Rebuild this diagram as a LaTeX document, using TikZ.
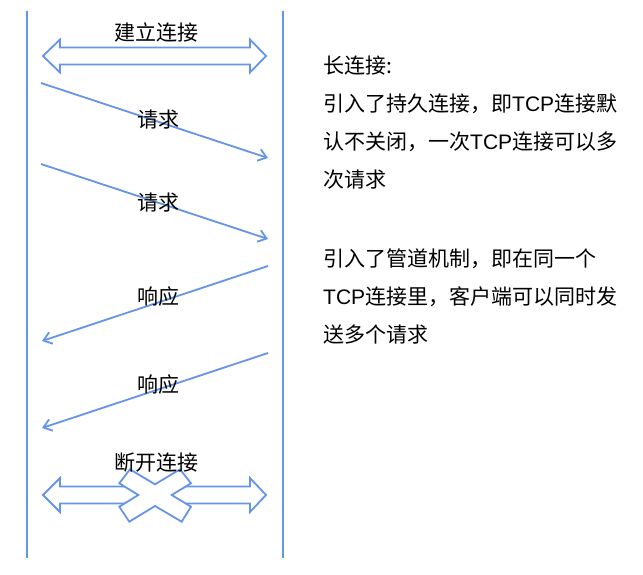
\documentclass[tikz,border=0pt]{standalone}
\usepackage{fontspec}
\setmainfont{Noto Sans CJK SC}
\newfontfamily\latinf{Liberation Sans}
\usetikzlibrary{arrows.meta}
\definecolor{lineblue}{RGB}{100,149,232}
\tikzset{
  lifeline/.style={draw=lineblue,line width=2pt},
  msg/.style={draw=lineblue,line width=1.8pt,-{Straight Barb[length=8pt,width=12pt,line width=1.8pt]}},
  hollow/.style={draw=lineblue,line width=1.8pt,fill=white,line join=miter},
  lbl/.style={font=\fontsize{21}{25}\selectfont,inner sep=0pt},
  note/.style={font=\fontsize{21}{25}\selectfont,inner sep=0pt,anchor=west}
}
\newcommand{\tcpword}{{\latinf TCP}}
\begin{document}
\begin{tikzpicture}[x=1pt,y=-1pt]
\useasboundingbox (0,0) rectangle (643,575);
% lifelines
\coordinate (lt) at (27,11); \coordinate (lb) at (27,558);
\coordinate (rt) at (283,11); \coordinate (rb) at (283,558);
\draw[lifeline] (lt) -- (lb);
\draw[lifeline] (rt) -- (rb);
% connect arrow
\draw[hollow] (43,56) -- (60,39.5) -- (60,47.5) -- (250,47.5) -- (250,39.5) -- (266,56)
  -- (250,72.5) -- (250,64.5) -- (60,64.5) -- (60,72.5) -- cycle;
\node[lbl] (connect) at (156,32) {建立连接};
% requests
\coordinate (q1s) at (41,83); \coordinate (q1e) at (268,158);
\coordinate (q2s) at (41,164); \coordinate (q2e) at (268,239);
\draw[msg] (q1s) -- (q1e);
\draw[msg] (q2s) -- (q2e);
\node[lbl] (req1) at (158,120) {请求};
\node[lbl] (req2) at (158,203) {请求};
% responses
\coordinate (r1s) at (268,266); \coordinate (r1e) at (42,341);
\coordinate (r2s) at (268,353); \coordinate (r2e) at (42,428);
\draw[msg] (r1s) -- (r1e);
\draw[msg] (r2s) -- (r2e);
\node[lbl] (resp1) at (158,297) {响应};
\node[lbl] (resp2) at (158,385) {响应};
% disconnect arrow
\draw[hollow] (43,495) -- (60,478) -- (60,486.5) -- (250,486.5) -- (250,478) -- (266,495)
  -- (250,512) -- (250,503.5) -- (60,503.5) -- (60,512) -- cycle;
\draw[hollow] (130,469.3) -- (155,484.3) -- (180,469.3) -- (191,483.3) -- (171.7,495)
  -- (191,506.7) -- (181.7,521.7) -- (155,506) -- (129.3,521.7) -- (119.3,506.7)
  -- (138.3,495) -- (119.3,483.3) -- cycle;
\node[lbl] (disconnect) at (156,463) {断开连接};
% notes
\node[note] (n1) at (323,66) {长连接:};
\node[note] (n2) at (323,104) {引入了持久连接，即\tcpword 连接默};
\node[note] (n3) at (323,142) {认不关闭，一次\tcpword 连接可以多};
\node[note] (n4) at (323,180) {次请求};
\node[note] (n5) at (323,259) {引入了管道机制，即在同一个};
\node[note] (n6) at (323,297) {\tcpword 连接里，客户端可以同时发};
\node[note] (n7) at (323,335) {送多个请求};
\end{tikzpicture}
\end{document}
